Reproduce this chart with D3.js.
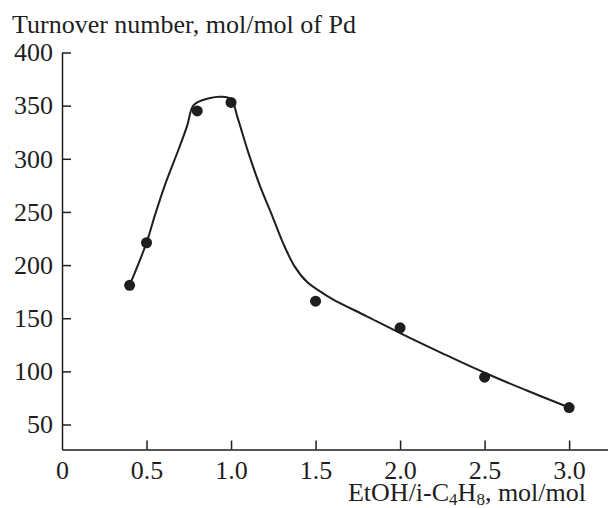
<!DOCTYPE html>
<html>
<head>
<meta charset="utf-8">
<script src="https://cdn.jsdelivr.net/npm/d3@7"></script>
<style>
  html, body { margin: 0; padding: 0; background: #fff; }
  svg { display: block; }
  svg text { font-family: 'Liberation Serif', 'DejaVu Serif', serif !important; fill: #1e1e1e; }
</style>
</head>
<body>
<svg id="chart" width="608" height="508"></svg>
<script>
// Measured data points
const ratio = [0.4, 0.5, 0.8, 1.0, 1.5, 2.0, 2.5, 3.0];
const turnover = [181, 221, 345, 353, 166, 141, 94.5, 66];

// Hand-drawn smoothing curve
const curveX = [0.4, 0.5, 0.55, 0.615, 0.69, 0.74, 0.772, 0.8, 0.87, 0.94, 1.0, 1.04, 1.1, 1.17, 1.247, 1.31, 1.375, 1.45, 1.52, 1.6, 1.8, 2.0, 2.25, 2.5, 2.75, 3.0];
const curveY = [181, 221, 247, 278, 309, 331, 349, 353, 357, 358.4, 356, 338, 307, 275, 245, 220, 199, 184, 176, 168, 152, 136, 117, 98.7, 82, 66];

const xTicks = [0, 0.5, 1.0, 1.5, 2.0, 2.5, 3.0];
const yTicks = [50, 100, 150, 200, 250, 300, 350, 400];

const yTitle = "Turnover number, mol/mol of Pd";

const svg = d3.select("#chart");
const x = d3.scaleLinear().domain([0, 3.23]).range([62, 608]);
const y = d3.scaleLinear().domain([26.5, 400]).range([449.5, 52.5]);

const ink = "#1e1e1e";
const serif = "'Liberation Serif', 'DejaVu Serif', serif";

// Y axis
const gy = svg.append("g")
  .attr("transform", `translate(${x(0)},0)`)
  .call(d3.axisLeft(y).tickValues(yTicks).tickSizeInner(-9).tickSizeOuter(0).tickPadding(9).tickFormat(d3.format("d")));
gy.attr("font-family", serif).attr("font-size", 26);
gy.select(".domain").attr("stroke", ink).attr("stroke-width", 1.5);
gy.selectAll(".tick line").attr("stroke", ink).attr("stroke-width", 1.5);
gy.selectAll("text").attr("fill", ink);

// X axis
const gx = svg.append("g")
  .attr("transform", `translate(0,${y(26.5)})`)
  .call(d3.axisBottom(x).tickValues(xTicks).tickSizeInner(-9).tickSizeOuter(0).tickPadding(11)
    .tickFormat(d => d === 0 ? "0" : d3.format(".1f")(d)));
gx.attr("font-family", serif).attr("font-size", 26);
gx.select(".domain").attr("stroke", ink).attr("stroke-width", 1.5);
gx.selectAll(".tick line").attr("stroke", ink).attr("stroke-width", 1.5)
  .attr("opacity", d => d === 0 ? 0 : 1);
gx.selectAll("text").attr("fill", ink);

// Curve
const line = d3.line()
  .x(d => x(d[0]))
  .y(d => y(d[1]))
  .curve(d3.curveCatmullRom.alpha(0.5));
svg.append("path")
  .datum(curveX.map((v, i) => [v, curveY[i]]))
  .attr("d", line)
  .attr("fill", "none")
  .attr("stroke", ink)
  .attr("stroke-width", 2);

// Points
svg.append("g").selectAll("circle")
  .data(ratio.map((v, i) => [v, turnover[i]]))
  .join("circle")
  .attr("cx", d => x(d[0]))
  .attr("cy", d => y(d[1]))
  .attr("r", 5.5)
  .attr("fill", ink);

// Y title
svg.append("text")
  .attr("x", 12).attr("y", 33)
  .attr("font-family", serif)
  .attr("font-size", 26)
  .text(yTitle);

// X title with subscripts
const xt = svg.append("text")
  .attr("x", 586).attr("y", 501)
  .attr("text-anchor", "end")
  .attr("font-family", serif)
  .attr("font-size", 26);
xt.append("tspan").text("EtOH/i-C");
xt.append("tspan").text("4").attr("font-size", 17).attr("dy", 4);
xt.append("tspan").text("H").attr("dy", -4);
xt.append("tspan").text("8").attr("font-size", 17).attr("dy", 4);
xt.append("tspan").text(", mol/mol").attr("dy", -4);
</script>
</body>
</html>
